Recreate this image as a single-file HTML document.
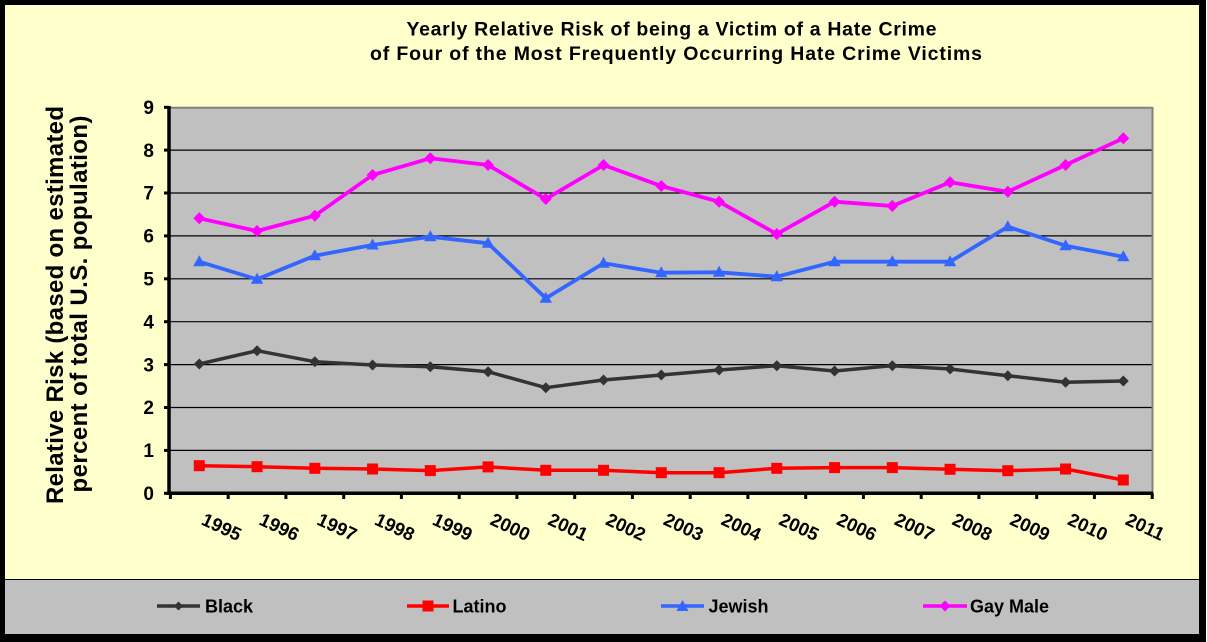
<!DOCTYPE html>
<html>
<head>
<meta charset="utf-8">
<style>
  html,body{margin:0;padding:0;background:#ffffff;}
  svg{display:block;}
  text{font-family:"Liberation Sans",Arial,sans-serif;font-weight:bold;fill:#000;}
</style>
</head>
<body>
<svg width="1207" height="642" viewBox="0 0 1207 642" xmlns="http://www.w3.org/2000/svg">
  <!-- frame -->
  <rect x="0" y="0" width="1206" height="642" fill="#000"/>
  <rect x="5" y="5" width="1194" height="629" fill="#FFFFCC"/>
  <!-- legend band -->
  <rect x="5" y="579" width="1194" height="55" fill="#C0C0C0"/>
  <line x1="5" y1="579.5" x2="1199" y2="579.5" stroke="#000" stroke-width="1"/>

  <!-- title -->
  <text x="406.5" y="35.5" font-size="19.5" textLength="530" lengthAdjust="spacing">Yearly  Relative Risk of being a Victim of a Hate Crime</text>
  <text x="370" y="60" font-size="19.5" textLength="612" lengthAdjust="spacing">of Four of the Most Frequently Occurring Hate Crime Victims</text>

  <!-- y axis title -->
  <text transform="translate(63,305) rotate(-90)" text-anchor="middle" font-size="24" textLength="398" lengthAdjust="spacing">Relative Risk (based on estimated</text>
  <text transform="translate(87,304) rotate(-90)" text-anchor="middle" font-size="24" textLength="377" lengthAdjust="spacing">percent of total U.S. population)</text>

  <!-- plot area -->
  <rect x="170.4" y="107" width="982" height="386.3" fill="#C0C0C0"/>
  <g stroke="#000" stroke-width="1.2">
    <line x1="170" y1="150.1" x2="1152" y2="150.1"/>
    <line x1="170" y1="193.0" x2="1152" y2="193.0"/>
    <line x1="170" y1="235.9" x2="1152" y2="235.9"/>
    <line x1="170" y1="278.8" x2="1152" y2="278.8"/>
    <line x1="170" y1="321.7" x2="1152" y2="321.7"/>
    <line x1="170" y1="364.6" x2="1152" y2="364.6"/>
    <line x1="170" y1="407.5" x2="1152" y2="407.5"/>
    <line x1="170" y1="450.4" x2="1152" y2="450.4"/>
  </g>
  <line x1="170" y1="107.8" x2="1153" y2="107.8" stroke="#808080" stroke-width="2"/>
  <line x1="1152.5" y1="107" x2="1152.5" y2="493" stroke="#808080" stroke-width="2"/>

  <!-- axes -->
  <g stroke="#000" stroke-width="3">
    <line x1="164" y1="107.3" x2="169" y2="107.3"/>
    <line x1="164" y1="150.1" x2="169" y2="150.1"/>
    <line x1="164" y1="193.0" x2="169" y2="193.0"/>
    <line x1="164" y1="235.9" x2="169" y2="235.9"/>
    <line x1="164" y1="278.8" x2="169" y2="278.8"/>
    <line x1="164" y1="321.7" x2="169" y2="321.7"/>
    <line x1="164" y1="364.6" x2="169" y2="364.6"/>
    <line x1="164" y1="407.5" x2="169" y2="407.5"/>
    <line x1="164" y1="450.4" x2="169" y2="450.4"/>
    <line x1="164" y1="493.3" x2="169" y2="493.3"/>
  </g>
  <line x1="169" y1="106" x2="169" y2="495" stroke="#000" stroke-width="3.5"/>
  <line x1="167" y1="493.3" x2="1153" y2="493.3" stroke="#000" stroke-width="3.5"/>
  <g stroke="#000" stroke-width="3">
    <line x1="170.4" y1="493" x2="170.4" y2="499"/>
    <line x1="228.2" y1="493" x2="228.2" y2="499"/>
    <line x1="285.9" y1="493" x2="285.9" y2="499"/>
    <line x1="343.7" y1="493" x2="343.7" y2="499"/>
    <line x1="401.4" y1="493" x2="401.4" y2="499"/>
    <line x1="459.2" y1="493" x2="459.2" y2="499"/>
    <line x1="516.9" y1="493" x2="516.9" y2="499"/>
    <line x1="574.7" y1="493" x2="574.7" y2="499"/>
    <line x1="632.4" y1="493" x2="632.4" y2="499"/>
    <line x1="690.2" y1="493" x2="690.2" y2="499"/>
    <line x1="747.9" y1="493" x2="747.9" y2="499"/>
    <line x1="805.7" y1="493" x2="805.7" y2="499"/>
    <line x1="863.4" y1="493" x2="863.4" y2="499"/>
    <line x1="921.2" y1="493" x2="921.2" y2="499"/>
    <line x1="978.9" y1="493" x2="978.9" y2="499"/>
    <line x1="1036.7" y1="493" x2="1036.7" y2="499"/>
    <line x1="1094.4" y1="493" x2="1094.4" y2="499"/>
    <line x1="1152.2" y1="493" x2="1152.2" y2="499"/>
  </g>

  <!-- y tick labels -->
  <g font-size="19" text-anchor="end">
    <text x="154" y="114">9</text>
    <text x="154" y="156.8">8</text>
    <text x="154" y="199.7">7</text>
    <text x="154" y="242.6">6</text>
    <text x="154" y="285.5">5</text>
    <text x="154" y="328.4">4</text>
    <text x="154" y="371.3">3</text>
    <text x="154" y="414.2">2</text>
    <text x="154" y="457.1">1</text>
    <text x="154" y="500">0</text>
  </g>

  <!-- x tick labels -->
  <g font-size="18.5">
    <text transform="translate(200.3,524) rotate(25)">1995</text>
    <text transform="translate(258.0,524) rotate(25)">1996</text>
    <text transform="translate(315.8,524) rotate(25)">1997</text>
    <text transform="translate(373.5,524) rotate(25)">1998</text>
    <text transform="translate(431.3,524) rotate(25)">1999</text>
    <text transform="translate(489.0,524) rotate(25)">2000</text>
    <text transform="translate(546.8,524) rotate(25)">2001</text>
    <text transform="translate(604.5,524) rotate(25)">2002</text>
    <text transform="translate(662.3,524) rotate(25)">2003</text>
    <text transform="translate(720.0,524) rotate(25)">2004</text>
    <text transform="translate(777.8,524) rotate(25)">2005</text>
    <text transform="translate(835.5,524) rotate(25)">2006</text>
    <text transform="translate(893.3,524) rotate(25)">2007</text>
    <text transform="translate(951.0,524) rotate(25)">2008</text>
    <text transform="translate(1008.8,524) rotate(25)">2009</text>
    <text transform="translate(1066.5,524) rotate(25)">2010</text>
    <text transform="translate(1124.3,524) rotate(25)">2011</text>
  </g>

  <!-- Latino -->
  <polyline fill="none" stroke="#FF0000" stroke-width="3.5" stroke-linejoin="round"
    points="199.3,465.7 257.05,466.7 314.8,468.3 372.55,469 430.3,470.6 488.05,466.9 545.8,470.3 603.55,470.3 661.3,472.7 719.05,472.7 776.8,468.3 834.55,467.6 892.3,467.6 950.05,469.3 1007.8,470.7 1065.55,469 1123.3,480"/>
  <g fill="#FF0000">
    <rect x="193.8" y="460.2" width="11" height="11"/>
    <rect x="251.55" y="461.2" width="11" height="11"/>
    <rect x="309.3" y="462.8" width="11" height="11"/>
    <rect x="367.05" y="463.5" width="11" height="11"/>
    <rect x="424.8" y="465.1" width="11" height="11"/>
    <rect x="482.55" y="461.4" width="11" height="11"/>
    <rect x="540.3" y="464.8" width="11" height="11"/>
    <rect x="598.05" y="464.8" width="11" height="11"/>
    <rect x="655.8" y="467.2" width="11" height="11"/>
    <rect x="713.55" y="467.2" width="11" height="11"/>
    <rect x="771.3" y="462.8" width="11" height="11"/>
    <rect x="829.05" y="462.1" width="11" height="11"/>
    <rect x="886.8" y="462.1" width="11" height="11"/>
    <rect x="944.55" y="463.8" width="11" height="11"/>
    <rect x="1002.3" y="465.2" width="11" height="11"/>
    <rect x="1060.05" y="463.5" width="11" height="11"/>
    <rect x="1117.8" y="474.5" width="11" height="11"/>
  </g>

  <!-- Black -->
  <polyline fill="none" stroke="#333333" stroke-width="3.5" stroke-linejoin="round"
    points="199.3,364 257.05,350.7 314.8,361.7 372.55,365 430.3,366.7 488.05,371.7 545.8,387.7 603.55,380 661.3,375 719.05,370 776.8,365.7 834.55,371 892.3,365.7 950.05,369 1007.8,375.7 1065.55,382.3 1123.3,381"/>
  <g fill="#333333">
    <path d="M199.3,358.5 l5.5,5.5 l-5.5,5.5 l-5.5,-5.5z"/>
    <path d="M257.05,345.2 l5.5,5.5 l-5.5,5.5 l-5.5,-5.5z"/>
    <path d="M314.8,356.2 l5.5,5.5 l-5.5,5.5 l-5.5,-5.5z"/>
    <path d="M372.55,359.5 l5.5,5.5 l-5.5,5.5 l-5.5,-5.5z"/>
    <path d="M430.3,361.2 l5.5,5.5 l-5.5,5.5 l-5.5,-5.5z"/>
    <path d="M488.05,366.2 l5.5,5.5 l-5.5,5.5 l-5.5,-5.5z"/>
    <path d="M545.8,382.2 l5.5,5.5 l-5.5,5.5 l-5.5,-5.5z"/>
    <path d="M603.55,374.5 l5.5,5.5 l-5.5,5.5 l-5.5,-5.5z"/>
    <path d="M661.3,369.5 l5.5,5.5 l-5.5,5.5 l-5.5,-5.5z"/>
    <path d="M719.05,364.5 l5.5,5.5 l-5.5,5.5 l-5.5,-5.5z"/>
    <path d="M776.8,360.2 l5.5,5.5 l-5.5,5.5 l-5.5,-5.5z"/>
    <path d="M834.55,365.5 l5.5,5.5 l-5.5,5.5 l-5.5,-5.5z"/>
    <path d="M892.3,360.2 l5.5,5.5 l-5.5,5.5 l-5.5,-5.5z"/>
    <path d="M950.05,363.5 l5.5,5.5 l-5.5,5.5 l-5.5,-5.5z"/>
    <path d="M1007.8,370.2 l5.5,5.5 l-5.5,5.5 l-5.5,-5.5z"/>
    <path d="M1065.55,376.8 l5.5,5.5 l-5.5,5.5 l-5.5,-5.5z"/>
    <path d="M1123.3,375.5 l5.5,5.5 l-5.5,5.5 l-5.5,-5.5z"/>
  </g>

  <!-- Jewish -->
  <polyline fill="none" stroke="#3366FF" stroke-width="3.8" stroke-linejoin="round"
    points="199.3,261.7 257.05,279.3 314.8,255.7 372.55,245 430.3,236.7 488.05,243.3 545.8,298.3 603.55,263.3 661.3,272.7 719.05,272.3 776.8,276.7 834.55,261.7 892.3,261.7 950.05,261.7 1007.8,226.7 1065.55,245.7 1123.3,256.7"/>
  <g fill="#3366FF">
    <path d="M199.3,255.2 l6.2,11 l-12.4,0z"/>
    <path d="M257.05,272.8 l6.2,11 l-12.4,0z"/>
    <path d="M314.8,249.2 l6.2,11 l-12.4,0z"/>
    <path d="M372.55,238.5 l6.2,11 l-12.4,0z"/>
    <path d="M430.3,230.2 l6.2,11 l-12.4,0z"/>
    <path d="M488.05,236.8 l6.2,11 l-12.4,0z"/>
    <path d="M545.8,291.8 l6.2,11 l-12.4,0z"/>
    <path d="M603.55,256.8 l6.2,11 l-12.4,0z"/>
    <path d="M661.3,266.2 l6.2,11 l-12.4,0z"/>
    <path d="M719.05,265.8 l6.2,11 l-12.4,0z"/>
    <path d="M776.8,270.2 l6.2,11 l-12.4,0z"/>
    <path d="M834.55,255.2 l6.2,11 l-12.4,0z"/>
    <path d="M892.3,255.2 l6.2,11 l-12.4,0z"/>
    <path d="M950.05,255.2 l6.2,11 l-12.4,0z"/>
    <path d="M1007.8,220.2 l6.2,11 l-12.4,0z"/>
    <path d="M1065.55,239.2 l6.2,11 l-12.4,0z"/>
    <path d="M1123.3,250.2 l6.2,11 l-12.4,0z"/>
  </g>

  <!-- Gay Male -->
  <polyline fill="none" stroke="#FF00FF" stroke-width="3.8" stroke-linejoin="round"
    points="199.3,218.3 257.05,231 314.8,215.7 372.55,175 430.3,158.3 488.05,165 545.8,199 603.55,165 661.3,186 719.05,201.7 776.8,234 834.55,201.7 892.3,206 950.05,182.3 1007.8,191.7 1065.55,165 1123.3,138.3"/>
  <g fill="#FF00FF">
    <path d="M199.3,212.3 l6,6 l-6,6 l-6,-6z"/>
    <path d="M257.05,225 l6,6 l-6,6 l-6,-6z"/>
    <path d="M314.8,209.7 l6,6 l-6,6 l-6,-6z"/>
    <path d="M372.55,169 l6,6 l-6,6 l-6,-6z"/>
    <path d="M430.3,152.3 l6,6 l-6,6 l-6,-6z"/>
    <path d="M488.05,159 l6,6 l-6,6 l-6,-6z"/>
    <path d="M545.8,193 l6,6 l-6,6 l-6,-6z"/>
    <path d="M603.55,159 l6,6 l-6,6 l-6,-6z"/>
    <path d="M661.3,180 l6,6 l-6,6 l-6,-6z"/>
    <path d="M719.05,195.7 l6,6 l-6,6 l-6,-6z"/>
    <path d="M776.8,228 l6,6 l-6,6 l-6,-6z"/>
    <path d="M834.55,195.7 l6,6 l-6,6 l-6,-6z"/>
    <path d="M892.3,200 l6,6 l-6,6 l-6,-6z"/>
    <path d="M950.05,176.3 l6,6 l-6,6 l-6,-6z"/>
    <path d="M1007.8,185.7 l6,6 l-6,6 l-6,-6z"/>
    <path d="M1065.55,159 l6,6 l-6,6 l-6,-6z"/>
    <path d="M1123.3,132.3 l6,6 l-6,6 l-6,-6z"/>
  </g>

  <!-- legend -->
  <line x1="157" y1="606" x2="200" y2="606" stroke="#333333" stroke-width="3.5"/>
  <path d="M178.5,601.5 l4.5,4.5 l-4.5,4.5 l-4.5,-4.5z" fill="#333333"/>
  <text x="205" y="612.5" font-size="18">Black</text>

  <line x1="407" y1="606" x2="449" y2="606" stroke="#FF0000" stroke-width="3.5"/>
  <rect x="422.5" y="600.5" width="11" height="11" fill="#FF0000"/>
  <text x="452.5" y="612.5" font-size="18">Latino</text>

  <line x1="661" y1="606" x2="704" y2="606" stroke="#3366FF" stroke-width="3.5"/>
  <path d="M682.5,600 l6,11 l-12,0z" fill="#3366FF"/>
  <text x="708.5" y="612.5" font-size="18">Jewish</text>

  <line x1="923" y1="606" x2="967" y2="606" stroke="#FF00FF" stroke-width="3.5"/>
  <path d="M945,600.5 l5.5,5.5 l-5.5,5.5 l-5.5,-5.5z" fill="#FF00FF"/>
  <text x="970" y="612.5" font-size="18">Gay Male</text>
</svg>
</body>
</html>
